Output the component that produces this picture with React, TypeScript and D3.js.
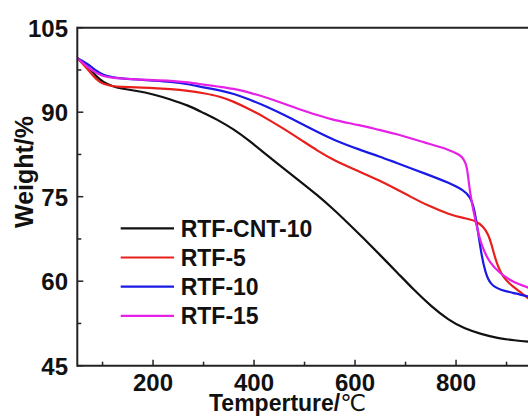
import React from "react";
import * as d3 from "d3";

const W = 528;
const H = 420;

const seriesNames = ["RTF-CNT-10", "RTF-5", "RTF-10", "RTF-15"];
const seriesColors = ["#111111", "#e8201c", "#1a1ae6", "#e620e6"];

const blackT = [50, 70, 88, 101, 120, 135, 168, 200, 234, 270, 299, 333, 359, 390, 425, 460, 493, 525, 557, 585, 617, 650, 684, 716, 750, 785, 816, 850, 882, 915, 950, 1000];
const blackW = [99.6, 98.2, 96.3, 95.3, 94.6, 94.2, 93.8, 93.2, 92.3, 91.2, 89.9, 88.4, 87.0, 85.0, 82.4, 79.9, 77.6, 75.3, 72.8, 70.4, 67.6, 64.6, 61.5, 58.5, 55.6, 53.1, 51.6, 50.6, 49.9, 49.5, 49.2, 48.9];

const redT = [50, 69, 88, 101, 120, 135, 168, 200, 234, 270, 299, 333, 359, 390, 425, 460, 493, 525, 557, 610, 650, 676, 710, 742, 788, 815, 838, 854, 864, 871, 880, 893, 913, 930, 950, 1000];
const redW = [99.6, 97.8, 95.7, 95.0, 94.6, 94.5, 94.4, 94.3, 94.1, 93.8, 93.4, 92.8, 91.9, 90.6, 88.9, 87.0, 85.1, 83.2, 81.5, 79.4, 77.8, 76.6, 75.0, 73.5, 71.8, 71.2, 70.8, 69.7, 68.3, 66.3, 63.2, 60.6, 59.0, 57.9, 56.4, 53.5];

const blueT = [50, 69, 88, 101, 120, 135, 168, 200, 234, 270, 299, 333, 359, 390, 425, 460, 493, 525, 557, 610, 650, 676, 742, 788, 814, 828, 836, 844, 851, 858, 867, 887, 920, 950, 1000];
const blueW = [99.6, 98.7, 97.3, 96.6, 96.2, 96.0, 95.8, 95.6, 95.4, 95.0, 94.4, 93.9, 93.3, 92.3, 91.0, 89.5, 88.0, 86.5, 85.1, 83.3, 82.1, 81.2, 79.0, 77.4, 76.2, 75.0, 73.0, 68.5, 64.3, 61.6, 59.5, 58.4, 57.8, 57.1, 56.5];

const magT = [50, 69, 88, 101, 120, 135, 168, 200, 234, 270, 299, 333, 359, 390, 425, 460, 493, 525, 557, 610, 650, 676, 742, 788, 808, 814, 821, 824, 828, 834, 841, 851, 867, 887, 907, 920, 950, 1000];
const magW = [99.6, 98.1, 96.9, 96.4, 96.1, 96.0, 95.8, 95.7, 95.6, 95.3, 94.9, 94.5, 94.2, 93.5, 92.6, 91.5, 90.4, 89.5, 88.6, 87.7, 86.8, 86.3, 84.5, 83.3, 82.4, 81.8, 80.6, 78.5, 75.6, 72.6, 69.7, 66.1, 63.2, 61.4, 60.2, 59.6, 58.6, 57.5];

const seriesT = [blackT, redT, blueT, magT];
const seriesW = [blackW, redW, blueW, magW];

const xMajor = [200, 400, 600, 800];
const xMinor = [100, 300, 500, 700, 900];
const yMajor = [45, 60, 75, 90, 105];
const yMinor = [52.5, 67.5, 82.5, 97.5];

const FONT = "'Liberation Sans', Arial, sans-serif";

export default function App() {
  const left = 77.3;
  const top = 27.7;
  const bottom = 365.7;
  const x = d3.scaleLinear().domain([50, 1000]).range([left, left + 950 * 0.505]);
  const y = d3.scaleLinear().domain([45, 105]).range([bottom, top]);
  const right = x(1000);

  const line = d3
    .line<[number, number]>()
    .x((d) => x(d[0]))
    .y((d) => y(d[1]))
    .curve(d3.curveBasis);

  const axisColor = "#222";

  return (
    <svg
      width={W}
      height={H}
      style={{ position: "absolute", left: 0, top: 0, background: "#fff" }}
    >
      <defs>
        <clipPath id="plot">
          <rect x={left} y={top} width={right - left} height={bottom - top} />
        </clipPath>
      </defs>
      <rect x={0} y={0} width={W} height={H} fill="#fff" />
      <g clipPath="url(#plot)">
        {seriesT.map((ts, i) => (
          <path
            key={i}
            d={line(ts.map((t, j) => [t, seriesW[i][j]]) as [number, number][]) || ""}
            fill="none"
            stroke={seriesColors[i]}
            strokeWidth={2.2}
            strokeLinejoin="round"
          />
        ))}
      </g>
      {/* frame */}
      <line x1={left} x2={right} y1={top} y2={top} stroke={axisColor} strokeWidth={2} />
      <line x1={left} x2={right} y1={bottom} y2={bottom} stroke={axisColor} strokeWidth={2} />
      <line x1={left} x2={left} y1={top - 1} y2={bottom + 1} stroke={axisColor} strokeWidth={2} />
      {/* x ticks */}
      {xMajor.map((t) => (
        <g key={"xm" + t}>
          <line x1={x(t)} x2={x(t)} y1={bottom} y2={bottom - 6} stroke={axisColor} strokeWidth={1.5} />
          <text
            x={x(t)}
            y={391}
            textAnchor="middle"
            fontFamily={FONT}
            fontWeight="bold"
            fontSize={24}
            fill="#111"
          >
            {t}
          </text>
        </g>
      ))}
      {xMinor.map((t) => (
        <line key={"xn" + t} x1={x(t)} x2={x(t)} y1={bottom} y2={bottom - 4} stroke={axisColor} strokeWidth={1.5} />
      ))}
      {/* y ticks */}
      {yMajor.map((v) => (
        <g key={"ym" + v}>
          <line x1={left} x2={left + 6} y1={y(v)} y2={y(v)} stroke={axisColor} strokeWidth={1.5} />
          <text
            x={68}
            y={y(v) + 9}
            textAnchor="end"
            fontFamily={FONT}
            fontWeight="bold"
            fontSize={24}
            fill="#111"
          >
            {v}
          </text>
        </g>
      ))}
      {yMinor.map((v) => (
        <line key={"yn" + v} x1={left} x2={left + 4} y1={y(v)} y2={y(v)} stroke={axisColor} strokeWidth={1.5} />
      ))}
      {/* axis titles */}
      <text x={209} y={411} fontFamily={FONT} fontWeight="bold" fontSize={23} fill="#111">
        Temperture/
        <tspan fontFamily="'DejaVu Sans', sans-serif" fontWeight={400} fontSize={23}>
          ℃
        </tspan>
      </text>
      <text
        transform={`translate(33, 172) rotate(-90)`}
        textAnchor="middle"
        fontFamily={FONT}
        fontWeight="bold"
        fontSize={25}
        fill="#111"
      >
        Weight/%
      </text>
      {/* legend */}
      {seriesNames.map((name, i) => {
        const ly = 228.3 + i * 29.2;
        return (
          <g key={name}>
            <line x1={120.7} x2={174} y1={ly} y2={ly} stroke={seriesColors[i]} strokeWidth={2.2} />
            <text
              x={180.7}
              y={ly + 8.3}
              fontFamily={FONT}
              fontWeight="bold"
              fontSize={23}
              fill="#111"
            >
              {name}
            </text>
          </g>
        );
      })}
    </svg>
  );
}
